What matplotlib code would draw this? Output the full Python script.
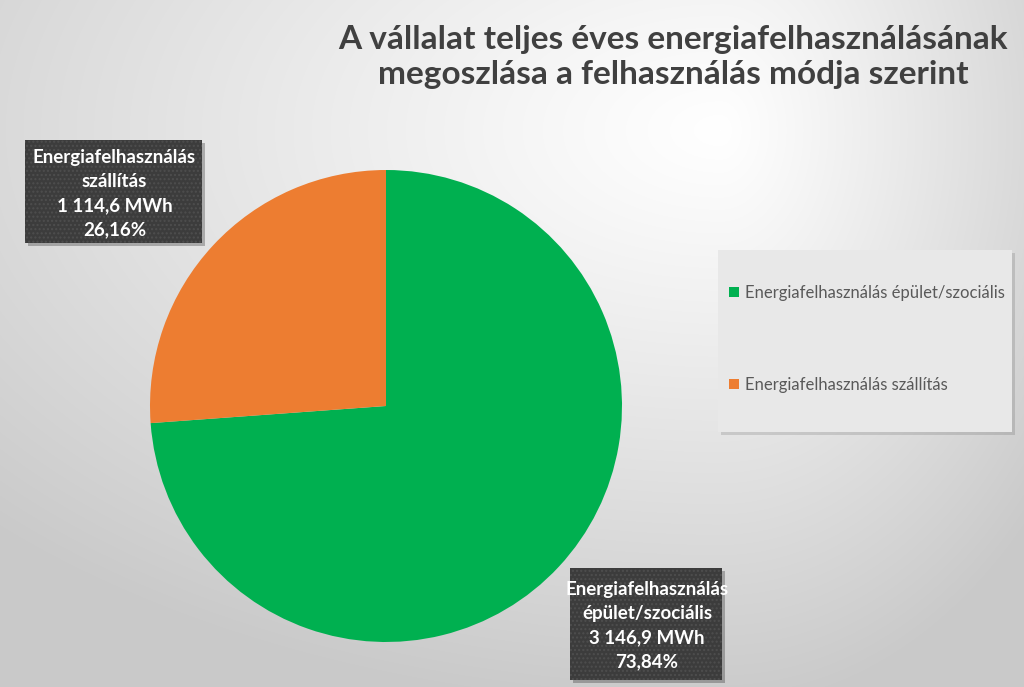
import numpy as np
import matplotlib
matplotlib.use("Agg")
import matplotlib.pyplot as plt
from matplotlib.patches import Rectangle, Patch

# ---- data ----
categories = ["Energiafelhasználás épület/szociális", "Energiafelhasználás szállítás"]
label_names = ["Energiafelhasználás\népület/szociális", "Energiafelhasználás\nszállítás"]
values_mwh = [3146.9, 1114.6]
value_labels = ["3 146,9 MWh", "1 114,6 MWh"]
percent_labels = ["73,84%", "26,16%"]
colors = ["#00B050", "#ED7D31"]
title = "A vállalat teljes éves energiafelhasználásának\nmegoszlása a felhasználás módja szerint"

W, H = 1024, 687
fig = plt.figure(figsize=(W / 100, H / 100), dpi=100)

def fx(px):
    return px / W

def fy(py):
    return 1 - py / H

# ---- background gradient ----
bg = fig.add_axes([0, 0, 1, 1], zorder=0)
bg.set_axis_off()
yy, xx = np.mgrid[0:H, 0:W]
cx, cy = 720.0, 130.0
dx = xx - cx
dy = yy - cy
axs = np.where(dx < 0, 1000.0, 420.0)
d = np.sqrt((dx / axs) ** 2 + (dy / 580.0) ** 2)
val = 1 - 0.21 * np.clip(d, 0, 1) ** 1.1
bg.imshow(np.dstack([val, val, val]), extent=[0, W, H, 0], aspect="auto", interpolation="bilinear")
bg.set_xlim(0, W)
bg.set_ylim(H, 0)

# ---- pie ----
pcx, pcy, r = 386, 406, 236
pax = fig.add_axes([fx(pcx - r), fy(pcy + r), 2 * r / W, 2 * r / H], zorder=2)
wedges, _ = pax.pie(values_mwh, colors=colors, startangle=90, counterclock=False,
                    radius=1.0, wedgeprops=dict(linewidth=0))
pax.set_xlim(-1, 1)
pax.set_ylim(-1, 1)
pax.set_aspect("auto")
pax.set_axis_off()

# ---- overlay axes in pixel coords ----
ov = fig.add_axes([0, 0, 1, 1], zorder=3)
ov.set_xlim(0, W)
ov.set_ylim(H, 0)
ov.set_axis_off()
ov.patch.set_alpha(0)

font_bold = dict(family=["Lato", "DejaVu Sans"], fontweight="bold")

# title
fig.text(fx(673), fy(57), title, ha="center", va="center", fontsize=24,
         color="#404040", linespacing=1.28, zorder=5, **font_bold)

# data label boxes
boxes = {1: (25, 140, 202, 243), 0: (570, 568, 722, 680)}
for i, (x0, y0, x1, y1) in boxes.items():
    ov.add_patch(Rectangle((x0 + 3, y0 + 3), x1 - x0, y1 - y0, facecolor="black",
                           alpha=0.25, edgecolor="none", zorder=3))
    ov.add_patch(Rectangle((x0, y0), x1 - x0, y1 - y0, facecolor="#3C3C3C",
                           edgecolor="none", zorder=4))
    ov.add_patch(Rectangle((x0, y0), x1 - x0, y1 - y0, fill=False, hatch="....",
                           edgecolor="#4E4E4E", linewidth=0, zorder=4))
    txt = f"{label_names[i]}\n{value_labels[i]}\n{percent_labels[i]}"
    ov.text((x0 + x1) / 2 + 1, (y0 + y1) / 2 + 2, txt, ha="center", va="center",
            fontsize=13.5, color="white", linespacing=1.5, zorder=5, **font_bold)

# legend box
lx0, ly0, lx1, ly1 = 718, 250, 1012, 432
ov.add_patch(Rectangle((lx0 + 3, ly0 + 3), lx1 - lx0, ly1 - ly0, facecolor="black",
                       alpha=0.12, edgecolor="none", zorder=3))
ov.add_patch(Rectangle((lx0, ly0), lx1 - lx0, ly1 - ly0, facecolor="#E8E8E8",
                       edgecolor="none", zorder=4))
handles = [Patch(facecolor=c, edgecolor="none") for c in colors]
leg = ov.legend(handles, categories, loc="upper left",
                bbox_to_anchor=(fx(729), fy(285)), bbox_transform=fig.transFigure,
                frameon=False, handlelength=0.6, handleheight=0.6, handletextpad=0.35,
                labelspacing=4.55, borderpad=0, borderaxespad=0,
                prop=dict(family=["Lato", "DejaVu Sans"], size=12))
leg.set_zorder(6)
for t in leg.get_texts():
    t.set_color("#595959")

fig.savefig("out.png", dpi=100)
